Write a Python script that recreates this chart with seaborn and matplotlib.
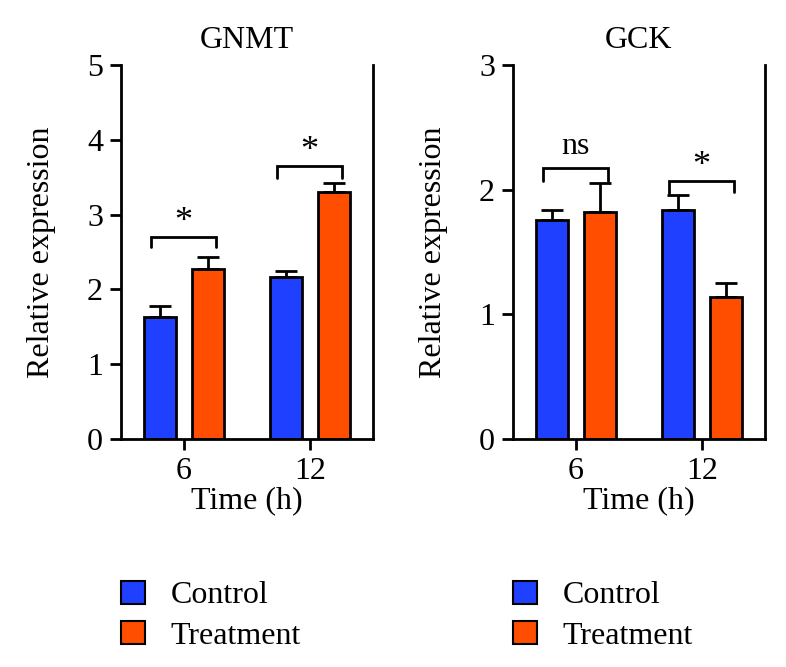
import pandas as pd
import numpy as np
import seaborn as sns
import matplotlib.pyplot as plt
from matplotlib.patches import Patch

# values
time_points = ['6', '12']
groups = ['Control', 'Treatment']

gnmt_control = [1.63, 2.17]
gnmt_control_err = [0.15, 0.08]
gnmt_treatment = [2.27, 3.30]
gnmt_treatment_err = [0.16, 0.12]

gck_control = [1.76, 1.84]
gck_control_err = [0.08, 0.12]
gck_treatment = [1.82, 1.14]
gck_treatment_err = [0.23, 0.11]

gnmt_marks = ['*', '*']
gck_marks = ['ns', '*']

colors = {'Control': '#1f40ff', 'Treatment': '#ff4e00'}

sns.set_style('white')
plt.rcParams['font.family'] = ['Liberation Serif', 'DejaVu Serif']
plt.rcParams['text.color'] = 'black'
plt.rcParams['axes.labelcolor'] = 'black'
plt.rcParams['xtick.color'] = 'black'
plt.rcParams['ytick.color'] = 'black'
FS = 23

fig = plt.figure(figsize=(7.86, 6.67), dpi=100)
ax1 = fig.add_axes([0.154, 0.342, 0.3205, 0.5605])
ax2 = fig.add_axes([0.6527, 0.342, 0.3205, 0.5605])


def make_df(ctrl, ctrl_err, trt, trt_err):
    return pd.DataFrame({
        'time': time_points * 2,
        'group': ['Control'] * 2 + ['Treatment'] * 2,
        'value': ctrl + trt,
        'err': ctrl_err + trt_err,
    })


def draw_panel(ax, df, title, ymax, marks, bracket_y, leg_y):
    sns.barplot(data=df, x='time', y='value', hue='group', order=time_points,
                hue_order=groups, palette=colors, width=0.75, gap=0.32,
                edgecolor='black', linewidth=2, errorbar=None, legend=False,
                saturation=1, ax=ax)
    bars = sorted(ax.patches, key=lambda p: p.get_x())
    # bars sorted left to right: C6, T6, C12, T12
    order = [('6', 'Control'), ('6', 'Treatment'), ('12', 'Control'), ('12', 'Treatment')]
    for p, (t, g) in zip(bars, order):
        row = df[(df['time'] == t) & (df['group'] == g)].iloc[0]
        xc = p.get_x() + p.get_width() / 2
        ax.errorbar(xc, row['value'], yerr=[[0], [row['err']]], fmt='none',
                    ecolor='black', elinewidth=2, capsize=8, capthick=2, zorder=1)
    # significance brackets
    for i, mark in enumerate(marks):
        left = bars[2 * i]
        right = bars[2 * i + 1]
        x0 = left.get_x() + left.get_width() * 0.2
        x1 = right.get_x() + right.get_width() * 0.75
        top, l0, l1 = bracket_y[i]
        ax.plot([x0, x0, x1, x1], [l0, top, top, l1], color='black', lw=2,
                solid_joinstyle='miter', clip_on=False)
        if mark == 'ns':
            ax.text((x0 + x1) / 2, top + 0.02 * ymax, mark, ha='center',
                    va='bottom', fontsize=FS)
        else:
            ax.text((x0 + x1) / 2, top - 0.005 * ymax, mark, ha='center',
                    va='bottom', fontsize=FS + 3)

    ax.set_ylim(0, ymax)
    ax.set_xlim(-0.5, 1.5)
    ax.set_yticks(range(0, ymax + 1))
    ax.set_title(title, fontsize=FS, pad=12)
    ax.set_xlabel('Time (h)', fontsize=FS, labelpad=0)
    ax.set_ylabel('Relative expression', fontsize=FS, labelpad=22)
    for s in ['left', 'bottom', 'right']:
        ax.spines[s].set_visible(True)
        ax.spines[s].set_color('black')
        ax.spines[s].set_linewidth(2)
    ax.spines['top'].set_visible(False)
    ax.tick_params(axis='both', which='both', direction='out', length=8, width=2,
                   color='black', labelsize=FS, pad=5)
    ax.tick_params(axis='y', right=False, left=True)
    ax.tick_params(axis='x', bottom=True)

    handles = [Patch(facecolor=colors[g], edgecolor='black', linewidth=1.5, label=g)
               for g in groups]
    ax.legend(handles=handles, loc='upper left', bbox_to_anchor=(-0.05, leg_y),
              frameon=False, fontsize=FS, handlelength=0.75, handleheight=0.75,
              handletextpad=0.8, labelspacing=0.32, borderaxespad=0)


gnmt_df = make_df(gnmt_control, gnmt_control_err, gnmt_treatment, gnmt_treatment_err)
gck_df = make_df(gck_control, gck_control_err, gck_treatment, gck_treatment_err)

draw_panel(ax1, gnmt_df, 'GNMT', 5, gnmt_marks,
           [(2.70, 2.57, 2.57), (3.65, 3.49, 3.49)], -0.345)
draw_panel(ax2, gck_df, 'GCK', 3, gck_marks,
           [(2.17, 2.07, 2.07), (2.07, 1.97, 1.98)], -0.345)

fig.savefig('out.png', dpi=100, facecolor='white')
